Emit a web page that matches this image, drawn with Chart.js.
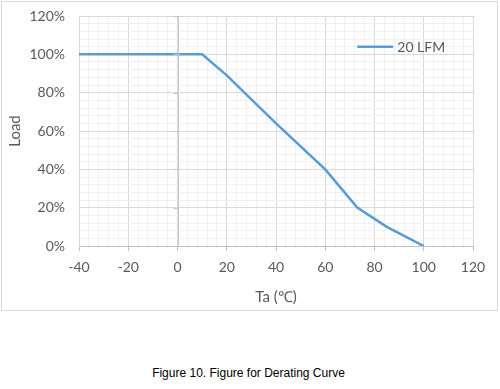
<!DOCTYPE html>
<html>
<head>
<meta charset="utf-8">
<script src="https://cdn.jsdelivr.net/npm/chart.js@4/dist/chart.umd.min.js"></script>
<style>
  body { margin: 0; background: #fff; width: 500px; height: 389px; position: relative; overflow: hidden; }
  #box { position: absolute; left: 1px; top: 1px; width: 495px; height: 308px; border: 1px solid #d9d9d9; }
  #caption { position: absolute; left: 0; top: 366px; width: 497px; text-align: center;
    font-family: "Liberation Sans", Arial, sans-serif; font-size: 12px; color: #000; }
</style>
</head>
<body>
<div id="box"><canvas id="chart" width="495" height="308"></canvas></div>
<div id="caption">Figure 10. Figure for Derating Curve</div>
<script>
// derating curve
const temps = [-40, 10, 20, 40, 60, 73, 85, 100];
const loads = [100, 100, 89, 64, 40, 20, 10, 0];
const seriesName = '20 LFM';
const xTicks = [-40, -20, 0, 20, 40, 60, 80, 100, 120];
const yTicks = [0, 20, 40, 60, 80, 100, 120];

const lineColour = '#5b9bd5';
const font = "Lato, 'Open Sans', sans-serif";

// legend + tick marks on the crossing axis (x = 0)
const extras = {
  id: 'extras',
  afterDatasetsDraw(chart) {
    const ctx = chart.ctx;
    const x = chart.scales.x, y = chart.scales.y;
    ctx.save();
    ctx.strokeStyle = '#c8c8c8';
    ctx.lineWidth = 1;
    const x0 = Math.round(x.getPixelForValue(0)) + 0.5;
    ctx.beginPath();
    ctx.moveTo(x0, y.top); ctx.lineTo(x0, y.bottom);
    yTicks.forEach(v => {
      const py = Math.round(y.getPixelForValue(v)) + 0.5;
      ctx.moveTo(x0 - 5, py); ctx.lineTo(x0, py);
    });
    ctx.stroke();

    const lx = x.getPixelForValue(73), ly = y.getPixelForValue(104);
    ctx.strokeStyle = lineColour;
    ctx.lineWidth = 2.5;
    ctx.beginPath();
    ctx.moveTo(lx, ly); ctx.lineTo(lx + 36, ly);
    ctx.stroke();
    ctx.fillStyle = '#595959';
    ctx.font = '14px ' + font;
    ctx.textBaseline = 'middle';
    ctx.fillText(seriesName, lx + 40, ly + 1);
    ctx.restore();
  }
};

new Chart(document.getElementById('chart'), {
  type: 'line',
  data: {
    datasets: [{
      label: seriesName,
      data: temps.map((t, i) => ({ x: t, y: loads[i] })),
      borderColor: lineColour,
      borderWidth: 2.5,
      pointRadius: 0,
      tension: 0
    }]
  },
  options: {
    responsive: false,
    animation: false,
    layout: { padding: { left: 0, right: 24, top: 14, bottom: 0 } },
    plugins: { legend: { display: false }, tooltip: { enabled: false } },
    scales: {
      x: {
        type: 'linear', min: xTicks[0], max: xTicks[xTicks.length - 1],
        ticks: {
          stepSize: 4, autoSkip: false, maxRotation: 0, minRotation: 0,
          color: '#595959', padding: 8,
          font: { family: font, size: 14 },
          callback: v => xTicks.includes(v) ? String(v) : ''
        },
        grid: {
          color: c => xTicks.includes(c.tick.value) ? '#d9d9d9' : '#f0f0f0',
          tickColor: c => xTicks.includes(c.tick.value) ? '#bfbfbf' : 'rgba(0,0,0,0)',
          tickLength: 5
        },
        border: { color: '#bfbfbf' },
        title: { display: true, text: 'Ta (℃)', color: '#595959', font: { family: font, size: 15 }, padding: { top: 0 } },
        afterFit: s => { s.height = 64; s.paddingLeft = 0; s.paddingRight = 0; }
      },
      y: {
        type: 'linear', min: yTicks[0], max: yTicks[yTicks.length - 1],
        ticks: {
          stepSize: 4, autoSkip: false, color: '#595959', padding: 14,
          font: { family: font, size: 14 },
          callback: v => yTicks.includes(v) ? v + '%' : ''
        },
        grid: {
          color: c => yTicks.includes(c.tick.value) ? '#d9d9d9' : '#f0f0f0',
          drawTicks: false
        },
        border: { color: '#d9d9d9' },
        title: { display: true, text: 'Load', color: '#595959', font: { family: font, size: 15 } },
        afterFit: s => { s.width = 77; s.paddingTop = 0; s.paddingBottom = 0; }
      }
    }
  },
  plugins: [extras]
});
</script>
</body>
</html>
